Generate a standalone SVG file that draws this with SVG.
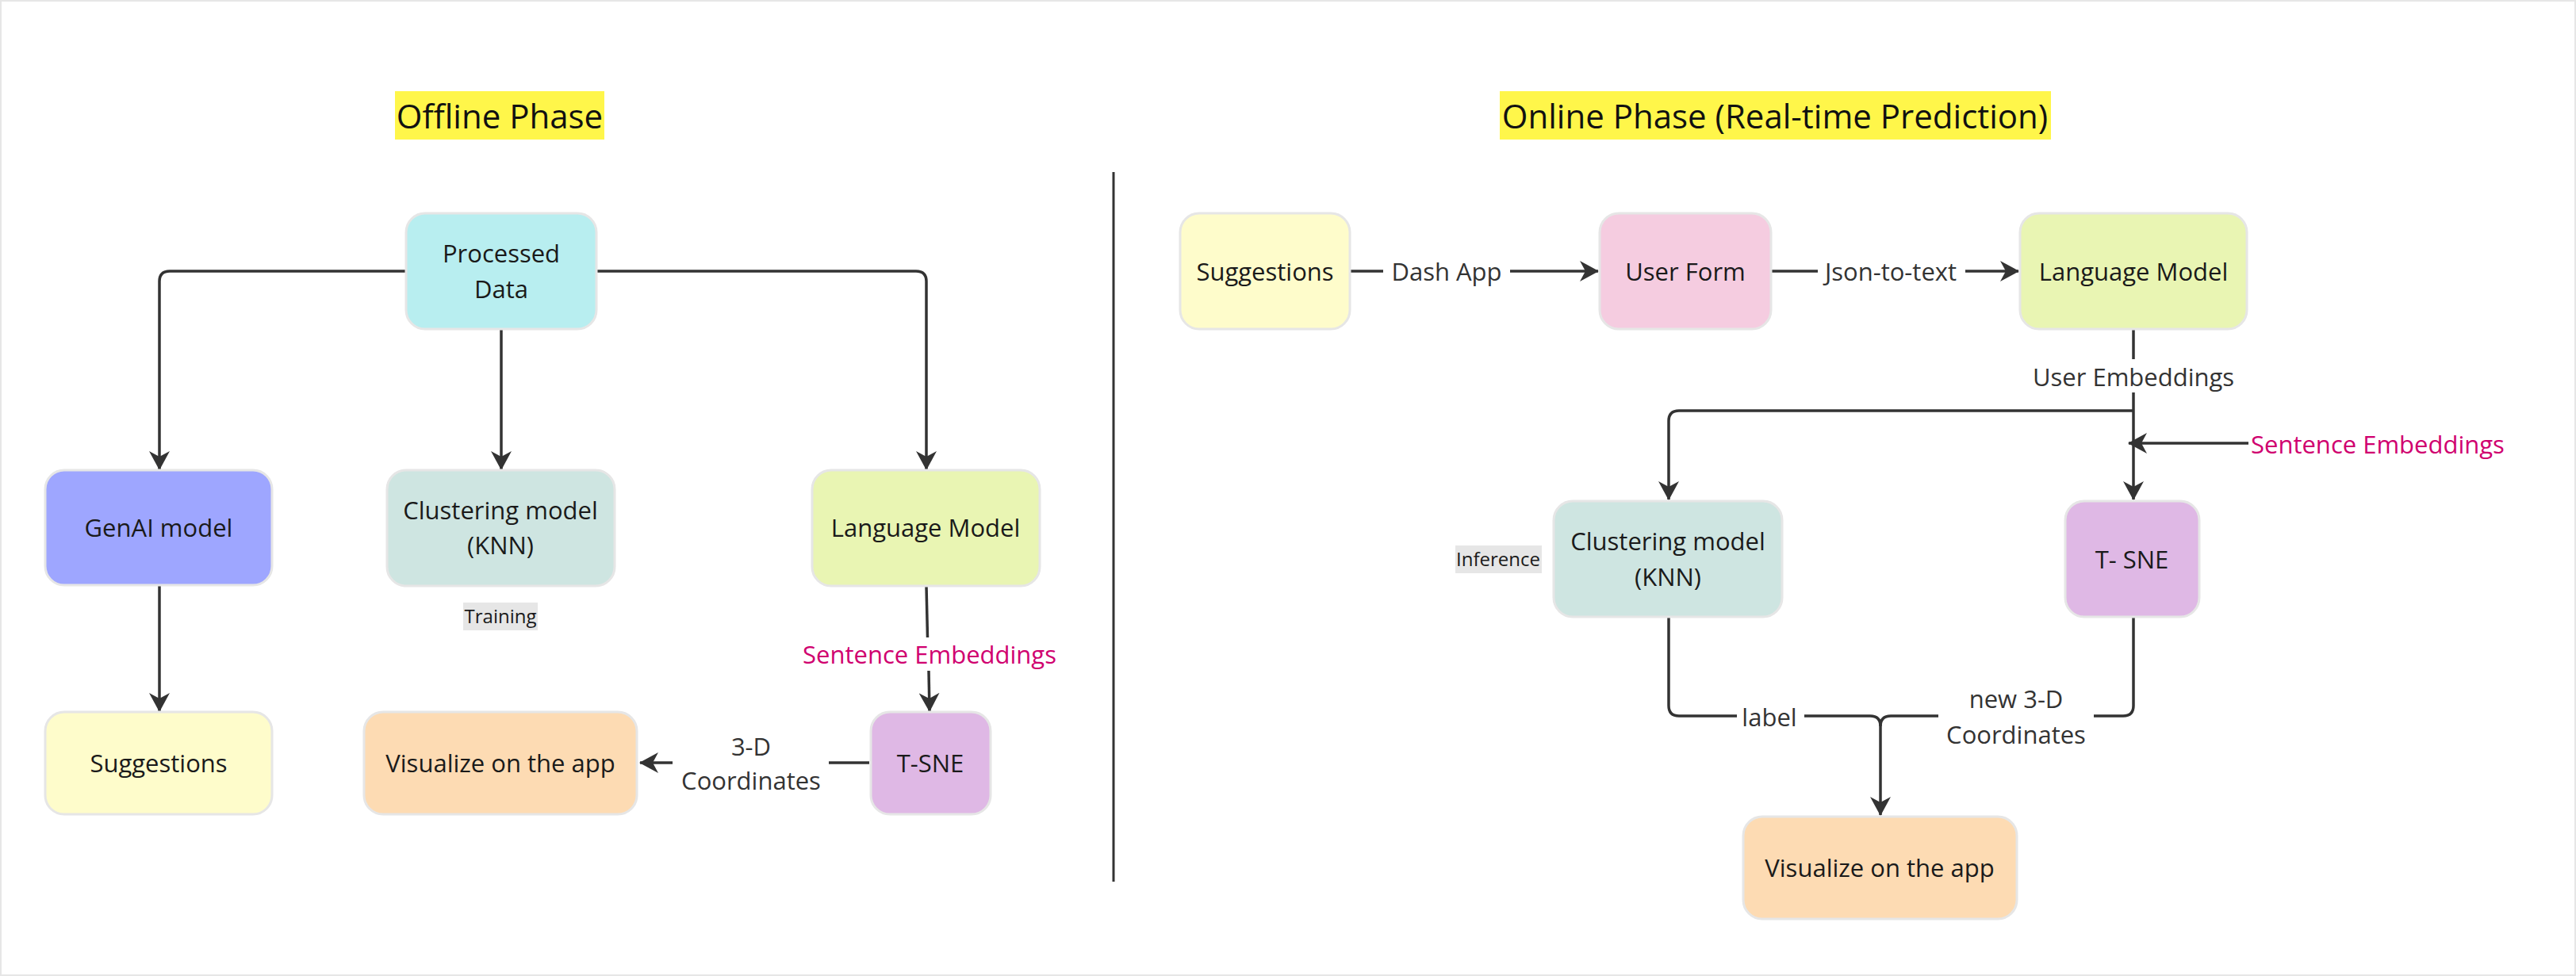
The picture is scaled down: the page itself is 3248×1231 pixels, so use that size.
<svg xmlns="http://www.w3.org/2000/svg" width="3248" height="1231" viewBox="0 0 3248 1231">
<style>
.n{stroke:#e6e6e6;stroke-width:3}
.t{font-family:"Open Sans","Liberation Sans",sans-serif;font-size:31px;fill:#1a1a1a;text-anchor:middle}
.lb{font-family:"Open Sans","Liberation Sans",sans-serif;font-size:31px;fill:#333333;text-anchor:middle}
.pk{font-family:"Open Sans","Liberation Sans",sans-serif;font-size:31px;fill:#d0006f}
.sm{font-family:"Open Sans","Liberation Sans",sans-serif;font-size:24px;fill:#1a1a1a;text-anchor:middle}
.ti{font-family:"Open Sans","Liberation Sans",sans-serif;font-size:42px;fill:#111111;text-anchor:middle}
.c{fill:none;stroke:#333333;stroke-width:3.5}
.a{marker-end:url(#arr)}
</style>
<defs>
<marker id="arr" viewBox="0 0 24 26" markerWidth="24" markerHeight="26" refX="23" refY="13" orient="auto" markerUnits="userSpaceOnUse">
<path d="M0,0 L24,13 L0,26 L7,13 Z" fill="#333333"/>
</marker>
</defs>
<rect x="0" y="0" width="3248" height="1231" fill="#ffffff"/>
<rect x="1" y="1" width="3246" height="1229" fill="none" stroke="#e6e6e6" stroke-width="2"/>

<g id="titles">
<rect x="498" y="115" width="264" height="61" fill="#fff64a"/>
<text class="ti" x="630" y="162">Offline Phase</text>
<rect x="1891" y="115" width="695" height="61" fill="#fff64a"/>
<text class="ti" x="2238" y="162">Online Phase (Real-time Prediction)</text>
</g>

<g id="divider">
<line x1="1404" y1="217" x2="1404" y2="1112" stroke="#333333" stroke-width="3"/>
</g>

<g id="connectors">
<!-- offline -->
<path class="c a" d="M512 342 H214 Q201 342 201 355 V592"/>
<path class="c a" d="M632 415 V592"/>
<path class="c a" d="M752 342 H1155 Q1168 342 1168 355 V592"/>
<path class="c a" d="M201 739 V897"/>
<path class="c" d="M1168 739 L1169.5 804"/>
<path class="c a" d="M1171 846 L1172 897"/>
<path class="c" d="M1096 962 H1045"/>
<path class="c a" d="M848 962 H807"/>
<!-- online -->
<path class="c" d="M1702 342 H1744"/>
<path class="c a" d="M1904 342 H2015"/>
<path class="c" d="M2233 342 H2292"/>
<path class="c a" d="M2478 342 H2545"/>
<path class="c" d="M2690 415 V453"/>
<path class="c a" d="M2690 495 V630"/>
<path class="c a" d="M2690 518 H2117 Q2104 518 2104 531 V630"/>
<path class="c a" d="M2835 559 H2684"/>
<path class="c" d="M2104 778 V890 Q2104 903 2117 903 H2190"/>
<path class="c" d="M2275 903 H2358 Q2371 903 2371 916"/>
<path class="c a" d="M2371 916 V1028"/>
<path class="c" d="M2690 778 V890 Q2690 903 2677 903 H2640"/>
<path class="c" d="M2444 903 H2384 Q2371 903 2371 916"/>
</g>

<g id="edge-labels">
<text class="pk" x="1172" y="837" text-anchor="middle">Sentence Embeddings</text>
<text class="lb" x="947" y="953">3-D</text>
<text class="lb" x="947" y="996">Coordinates</text>
<text class="lb" x="1824" y="354">Dash App</text>
<text class="lb" x="2384" y="354">Json-to-text</text>
<text class="lb" x="2690" y="487">User Embeddings</text>
<text class="pk" x="2838" y="572">Sentence Embeddings</text>
<text class="lb" x="2231" y="916">label</text>
<text class="lb" x="2542" y="893">new 3-D</text>
<text class="lb" x="2542" y="938">Coordinates</text>
</g>

<g id="processed-data">
<rect class="n" x="512" y="269" width="240" height="146" rx="24" fill="#b8eef0"/>
<text class="t" x="632" y="331">Processed</text>
<text class="t" x="632" y="376">Data</text>
</g>
<g id="genai-model">
<rect class="n" x="57" y="593" width="286" height="145" rx="24" fill="#9ea6ff"/>
<text class="t" x="200" y="677">GenAI model</text>
</g>
<g id="clustering-offline">
<rect class="n" x="488" y="593" width="287" height="146" rx="24" fill="#cee5e1"/>
<text class="t" x="631" y="655">Clustering model</text>
<text class="t" x="631" y="699">(KNN)</text>
</g>
<g id="training-label">
<rect x="584" y="760" width="94" height="35" fill="#e6e6e6"/>
<text class="sm" x="631" y="786">Training</text>
</g>
<g id="language-model-offline">
<rect class="n" x="1024" y="593" width="287" height="146" rx="24" fill="#e9f5b3"/>
<text class="t" x="1167" y="677">Language Model</text>
</g>
<g id="suggestions-offline">
<rect class="n" x="57" y="898" width="286" height="129" rx="24" fill="#fefccb"/>
<text class="t" x="200" y="974">Suggestions</text>
</g>
<g id="visualize-offline">
<rect class="n" x="459" y="898" width="344" height="129" rx="24" fill="#fddbb3"/>
<text class="t" x="631" y="974">Visualize on the app</text>
</g>
<g id="tsne-offline">
<rect class="n" x="1098" y="898" width="151" height="129" rx="24" fill="#dfb8e5"/>
<text class="t" x="1173" y="974">T-SNE</text>
</g>

<g id="suggestions-online">
<rect class="n" x="1488" y="269" width="214" height="146" rx="24" fill="#fefccb"/>
<text class="t" x="1595" y="354">Suggestions</text>
</g>
<g id="user-form">
<rect class="n" x="2017" y="269" width="216" height="146" rx="24" fill="#f5cce0"/>
<text class="t" x="2125" y="354">User Form</text>
</g>
<g id="language-model-online">
<rect class="n" x="2547" y="269" width="286" height="146" rx="24" fill="#e9f5b3"/>
<text class="t" x="2690" y="354">Language Model</text>
</g>
<g id="clustering-online">
<rect class="n" x="1959" y="632" width="288" height="146" rx="24" fill="#cee5e1"/>
<text class="t" x="2103" y="694">Clustering model</text>
<text class="t" x="2103" y="739">(KNN)</text>
</g>
<g id="inference-label">
<rect x="1835" y="688" width="109" height="35" fill="#e6e6e6"/>
<text class="sm" x="1889" y="714">Inference</text>
</g>
<g id="tsne-online">
<rect class="n" x="2604" y="632" width="169" height="146" rx="24" fill="#dfb8e5"/>
<text class="t" x="2688" y="717">T- SNE</text>
</g>
<g id="visualize-online">
<rect class="n" x="2198" y="1030" width="345" height="129" rx="24" fill="#fddbb3"/>
<text class="t" x="2370" y="1106">Visualize on the app</text>
</g>
</svg>
